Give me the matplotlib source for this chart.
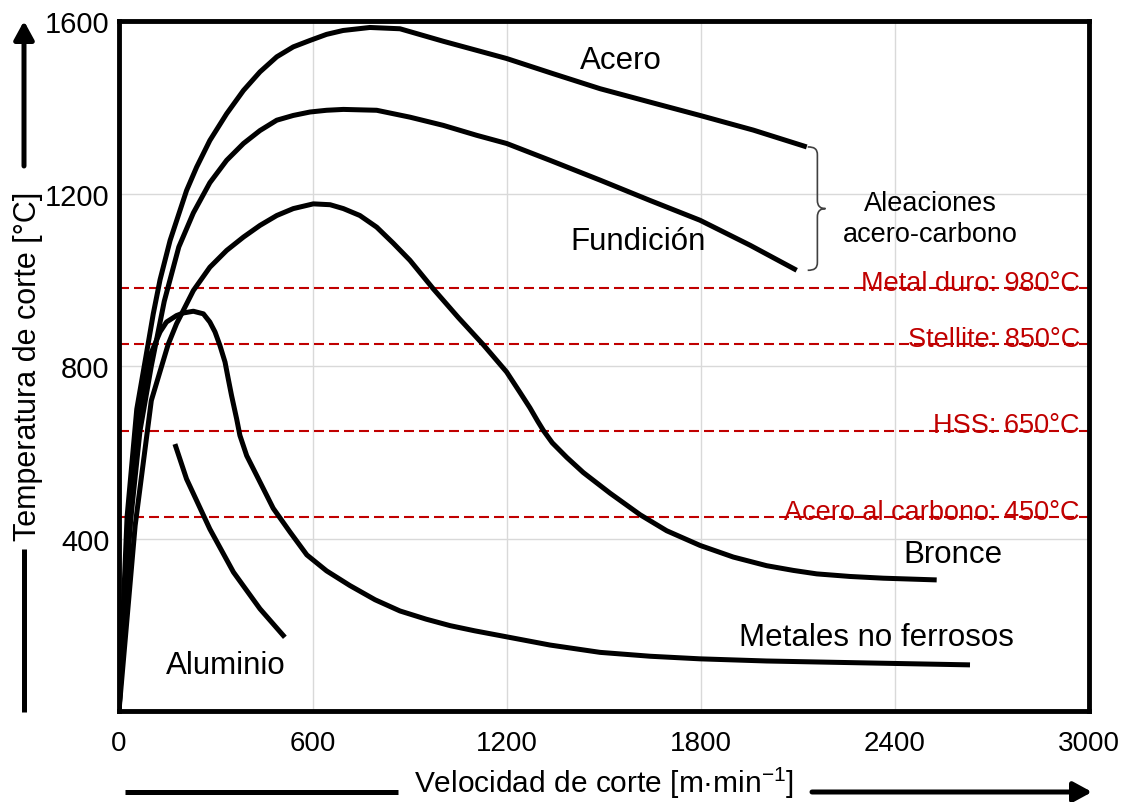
import matplotlib
matplotlib.use("Agg")
import matplotlib.pyplot as plt
from matplotlib.path import Path
from matplotlib.patches import PathPatch
from matplotlib.lines import Line2D

plt.rcParams['font.family'] = ['Liberation Sans', 'DejaVu Sans']
plt.rcParams['mathtext.default'] = 'regular'

# cutting speed [m/min] vs cutting temperature [°C] for each material
acero_x = [0, 25, 55, 90, 106, 127, 158, 209, 240, 281, 333, 385, 436, 488, 539, 591, 642, 693, 776, 869,
           1003, 1106, 1199, 1342, 1488, 1642, 1797, 1962, 2127]
acero_y = [0, 450, 700, 851, 921, 1000, 1091, 1207, 1261, 1323, 1385, 1439, 1482, 1517, 1540, 1555, 1569, 1578,
           1585, 1582, 1553, 1532, 1513, 1478, 1443, 1412, 1381, 1347, 1308]

fundicion_x = [0, 30, 65, 100, 140, 185, 230, 281, 333, 385, 436, 488, 539, 591, 642, 694, 797, 900, 1003,
               1106, 1199, 1333, 1488, 1642, 1797, 1952, 2096]
fundicion_y = [0, 400, 650, 800, 950, 1076, 1155, 1225, 1277, 1316, 1346, 1370, 1381, 1389, 1393, 1395, 1393,
               1377, 1358, 1335, 1316, 1277, 1231, 1184, 1138, 1080, 1022]

bronce_x = [0, 50, 100, 152, 178, 230, 281, 333, 385, 436, 488, 539, 601, 653, 694, 745, 797, 848, 900, 972,
            1050, 1126, 1199, 1240, 1271, 1295, 1313, 1340, 1385, 1436, 1519, 1612, 1694, 1797, 1900, 2003,
            2086, 2158, 2261, 2364, 2529]
bronce_y = [0, 430, 720, 850, 898, 975, 1029, 1068, 1099, 1126, 1149, 1165, 1176, 1174, 1165, 1149, 1122, 1085,
            1045, 979, 912, 850, 786, 739, 703, 672, 650, 622, 588, 553, 505, 455, 418, 384, 357, 337,
            326, 318, 312, 308, 304]

metales_x = [0, 40, 70, 96, 127, 147, 178, 199, 230, 261, 281, 297, 312, 328, 338, 348, 364, 374, 395, 426,
             477, 529, 581, 642, 714, 792, 869, 950, 1024, 1100, 1178, 1333, 1488, 1643, 1797, 2003, 2209, 2632]
metales_y = [0, 500, 730, 824, 879, 902, 917, 923, 927, 921, 902, 879, 848, 809, 770, 732, 677, 639, 592, 546,
             470, 415, 362, 325, 291, 258, 232, 213, 198, 186, 175, 153, 136, 127, 121, 116, 113, 107]

aluminio_x = [173, 209, 281, 354, 436, 513]
aluminio_y = [619, 538, 422, 322, 237, 171]

# tool material temperature limits
limites = [980, 850, 650, 450]
limites_txt = ['Metal duro: 980°C', 'Stellite: 850°C', 'HSS: 650°C', 'Acero al carbono: 450°C']

xticks = [0, 600, 1200, 1800, 2400, 3000]
yticks = [400, 800, 1200, 1600]

fig = plt.figure(figsize=(11.3, 8.03), dpi=100)
ax = fig.add_axes([0.1053, 0.1133, 0.8584, 0.8593])
ax.set_xlim(0, 3000)
ax.set_ylim(0, 1600)
ax.set_xticks(xticks)
ax.set_yticks(yticks)
ax.set_xticklabels([str(v) for v in xticks], fontsize=20)
ax.set_yticklabels([str(v) for v in yticks], fontsize=21)
ax.tick_params(axis='both', length=0)
ax.tick_params(axis='x', pad=14)
ax.tick_params(axis='y', pad=7)
ax.grid(True, color='#d9d9d9', lw=1.0, zorder=0)
ax.set_axisbelow(True)
for s in ax.spines.values():
    s.set_linewidth(3.5)
    s.set_color('black')
    s.set_zorder(5)

for val, txt in zip(limites, limites_txt):
    ax.axhline(val, color='#C00000', lw=1.5, dashes=(4.8, 2.4), zorder=1)
    ax.text(2972, val - 4, txt, color='#C00000', fontsize=19.5, ha='right', va='baseline', zorder=2)

curve_kw = dict(color='black', lw=3.6, solid_capstyle='butt', solid_joinstyle='round', zorder=3)
ax.plot(acero_x, acero_y, **curve_kw)
ax.plot(fundicion_x, fundicion_y, **curve_kw)
ax.plot(bronce_x, bronce_y, **curve_kw)
ax.plot(metales_x, metales_y, **curve_kw)
ax.plot(aluminio_x, aluminio_y, **curve_kw)

lab_kw = dict(fontsize=22.5, ha='center', va='center', color='black')
ax.text(1553, 1510, 'Acero', **lab_kw)
ax.text(1605, 1090, 'Fundición', **lab_kw)
ax.text(2580, 364, 'Bronce', **lab_kw)
ax.text(2344, 172, 'Metales no ferrosos', **lab_kw)
ax.text(331, 107, 'Aluminio', **lab_kw)
ax.text(2508, 1141, 'Aleaciones\nacero-carbono', fontsize=19.5, ha='center', va='center',
        linespacing=1.25)

# curly brace joining the two carbon steel curves
top = acero_y[-1]
bot = fundicion_y[-1]
mid = (top + bot) / 2
x0, x1, x2 = 2130, 2160, 2185
verts = [(x0, top), (x0 + 20, top), (x1, top - 4), (x1, top - 19),
         (x1, mid + 20),
         (x1, mid + 5), (x1 + 10, mid), (x2, mid),
         (x1 + 10, mid), (x1, mid - 5), (x1, mid - 20),
         (x1, bot + 19),
         (x1, bot + 4), (x0 + 20, bot), (x0, bot)]
codes = [Path.MOVETO, Path.CURVE4, Path.CURVE4, Path.CURVE4,
         Path.LINETO,
         Path.CURVE4, Path.CURVE4, Path.CURVE4,
         Path.CURVE4, Path.CURVE4, Path.CURVE4,
         Path.LINETO,
         Path.CURVE4, Path.CURVE4, Path.CURVE4]
ax.add_patch(PathPatch(Path(verts, codes), fill=False, edgecolor='#404040', lw=1.2, zorder=3))

# axis titles with arrows
fig.text(28 / 1130, 1 - 366 / 803, 'Temperatura de corte [°C]', rotation=90,
         ha='center', va='center', fontsize=22)
fig.text(604 / 1130, 1 - 783 / 803, 'Velocidad de corte [m·min$^{-1}$]',
         ha='center', va='center', fontsize=21.5)

arrow_kw = dict(arrowstyle='-|>,head_length=0.55,head_width=0.3', mutation_scale=20,
                lw=3.6, color='black', shrinkA=0, shrinkB=0)
ax_x = 24 / 1130
fig.add_artist(Line2D([ax_x, ax_x], [1 - 713 / 803, 1 - 550 / 803], color='black', lw=3.6,
                      transform=fig.transFigure, solid_capstyle='butt'))
ax.annotate('', xy=(ax_x, 1 - 22 / 803), xytext=(ax_x, 1 - 167 / 803),
            xycoords='figure fraction', textcoords='figure fraction', arrowprops=arrow_kw,
            annotation_clip=False)
ay = 1 - 793 / 803
fig.add_artist(Line2D([125 / 1130, 398 / 1130], [ay, ay], color='black', lw=3.6,
                      transform=fig.transFigure, solid_capstyle='butt'))
ax.annotate('', xy=(1092 / 1130, ay), xytext=(812 / 1130, ay),
            xycoords='figure fraction', textcoords='figure fraction', arrowprops=arrow_kw,
            annotation_clip=False)

fig.savefig('out.png', dpi=100, facecolor='white')
